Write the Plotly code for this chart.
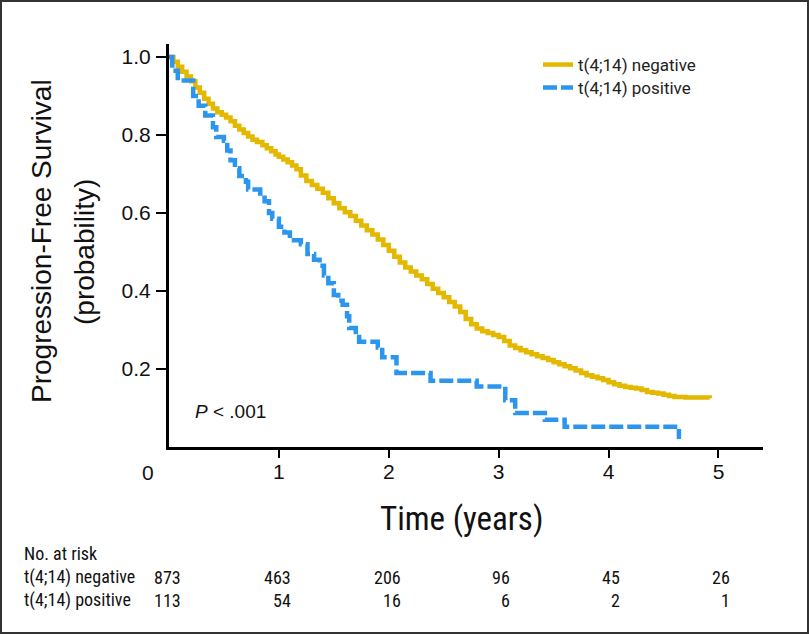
import plotly.graph_objects as go

# Kaplan-Meier estimates (years, probability)
neg_time = [0.00, 0.04, 0.08, 0.12, 0.16, 0.20, 0.24, 0.28, 0.32, 0.36, 0.40, 0.44,
            0.48, 0.52, 0.56, 0.60, 0.64, 0.68, 0.72, 0.76, 0.80, 0.85, 0.89, 0.93,
            0.97, 1.00, 1.04, 1.08, 1.12, 1.16, 1.20, 1.25, 1.30, 1.35, 1.40, 1.45,
            1.50, 1.55, 1.60, 1.65, 1.70, 1.75, 1.80, 1.85, 1.90, 1.95, 2.00, 2.05,
            2.10, 2.15, 2.20, 2.25, 2.30, 2.35, 2.40, 2.45, 2.50, 2.55, 2.60, 2.65,
            2.70, 2.75, 2.80, 2.85, 2.90, 2.95, 3.00, 3.05, 3.10, 3.15, 3.20, 3.25,
            3.30, 3.35, 3.40, 3.45, 3.50, 3.55, 3.60, 3.65, 3.70, 3.75, 3.80, 3.85,
            3.90, 3.95, 4.00, 4.05, 4.10, 4.15, 4.20, 4.25, 4.30, 4.35, 4.40, 4.45,
            4.50, 4.55, 4.60, 4.70, 4.80, 4.92]
neg_surv = [1.000, 0.988, 0.975, 0.962, 0.950, 0.938, 0.922, 0.908, 0.893, 0.880, 0.868, 0.858,
            0.852, 0.845, 0.835, 0.824, 0.814, 0.805, 0.796, 0.788, 0.782, 0.774, 0.766, 0.758,
            0.750, 0.744, 0.737, 0.730, 0.722, 0.712, 0.696, 0.682, 0.672, 0.662, 0.652, 0.638,
            0.625, 0.612, 0.602, 0.592, 0.580, 0.568, 0.556, 0.545, 0.532, 0.518, 0.503, 0.488,
            0.473, 0.460, 0.450, 0.440, 0.430, 0.418, 0.406, 0.395, 0.384, 0.372, 0.360, 0.346,
            0.328, 0.315, 0.304, 0.297, 0.292, 0.287, 0.282, 0.272, 0.260, 0.254, 0.248, 0.243,
            0.238, 0.233, 0.228, 0.223, 0.217, 0.212, 0.207, 0.202, 0.196, 0.190, 0.184, 0.180,
            0.176, 0.172, 0.166, 0.161, 0.157, 0.154, 0.152, 0.150, 0.146, 0.141, 0.139, 0.137,
            0.134, 0.131, 0.128, 0.127, 0.127, 0.125]

pos_time = [0.00, 0.03, 0.08, 0.22, 0.27, 0.33, 0.40, 0.43, 0.50, 0.53, 0.56, 0.60,
            0.64, 0.70, 0.72, 0.83, 0.87, 0.91, 0.94, 1.00, 1.05, 1.10, 1.20, 1.26,
            1.32, 1.37, 1.41, 1.45, 1.50, 1.54, 1.58, 1.62, 1.64, 1.70, 1.73, 1.90,
            1.94, 2.07, 2.38, 2.80, 3.06, 3.15, 3.42, 3.60, 4.64]
pos_surv = [1.000, 0.965, 0.940, 0.900, 0.875, 0.850, 0.820, 0.795, 0.785, 0.760, 0.735, 0.715,
            0.695, 0.680, 0.660, 0.650, 0.630, 0.600, 0.585, 0.565, 0.550, 0.530, 0.520, 0.495,
            0.480, 0.465, 0.440, 0.420, 0.390, 0.375, 0.365, 0.335, 0.305, 0.295, 0.270, 0.255,
            0.230, 0.190, 0.170, 0.155, 0.120, 0.087, 0.070, 0.052, 0.026]
pos_end = 4.66

risk_times = [0, 1, 2, 3, 4, 5]
risk_neg = [873, 463, 206, 96, 45, 26]
risk_pos = [113, 54, 16, 6, 2, 1]

YELLOW = "#E5B800"
BLUE = "#2C96EF"
NARROW = "Liberation Sans Narrow, Arial Narrow, Roboto Condensed, DejaVu Sans Condensed, sans-serif"
SANS = "Liberation Sans, Arial, sans-serif"
INK = "#111"

W, H = 809, 634
L, R, T, B = 169, 46, 44, 187
pw, ph = W - L - R, H - T - B


def px_x(p):
    return (p - L) / pw


def px_y(p):
    return (H - B - p) / ph


def note(text, x, y, size, family=SANS, xanchor="center", xref="paper", angle=0):
    return dict(text=text, x=x, y=y, xref=xref, yref="paper", xanchor=xanchor,
                yanchor="middle", textangle=angle, showarrow=False,
                font=dict(family=family, size=size, color=INK))


fig = go.Figure()
fig.add_trace(go.Scatter(x=neg_time, y=neg_surv, mode="lines", line_shape="hv",
                         line=dict(color=YELLOW, width=4.5), name="t(4;14) negative",
                         showlegend=True, legend="legend"))
fig.add_trace(go.Scatter(x=pos_time + [pos_end], y=pos_surv + [pos_surv[-1]], mode="lines",
                         line_shape="hv", line=dict(color=BLUE, width=4.5, dash="14px,4px"),
                         name="t(4;14) positive", showlegend=True, legend="legend2"))

annotations = [
    dict(text="<i>P</i> < .001", x=0.22, y=0.092, xref="x", yref="y", xanchor="left",
         yanchor="middle", showarrow=False, font=dict(family=SANS, size=19, color=INK)),
    note("0", px_x(147.5), px_y(472), 21),
    note("Progression-Free Survival", px_x(42), px_y(241), 28, angle=-90),
    note("(probability)", px_x(84), px_y(252), 28, angle=-90),
    note("Time (years)", px_x(461.5), px_y(518), 33, family=NARROW),
    note("No. at risk", px_x(22), px_y(553), 18, family=NARROW, xanchor="left"),
    note("t(4;14) negative", px_x(22), px_y(577), 18, family=NARROW, xanchor="left"),
    note("t(4;14) positive", px_x(22), px_y(600), 18, family=NARROW, xanchor="left"),
]
for t, n_neg, n_pos in zip(risk_times, risk_neg, risk_pos):
    annotations.append(note(str(n_neg), t + 0.125, px_y(577), 18, family=NARROW,
                            xanchor="right", xref="x"))
    annotations.append(note(str(n_pos), t + 0.125, px_y(600), 18, family=NARROW,
                            xanchor="right", xref="x"))

legend_style = dict(xanchor="left", yanchor="top", bgcolor="rgba(0,0,0,0)",
                    font=dict(family="Roboto", size=17, color="#222"))

fig.update_layout(
    width=W, height=H,
    showlegend=True,
    margin=dict(l=L, r=R, t=T, b=B),
    paper_bgcolor="white", plot_bgcolor="white",
    xaxis=dict(range=[0, 5.405], tickvals=[1, 2, 3, 4, 5], showgrid=False, zeroline=False,
               showline=True, linecolor="black", linewidth=3, ticks="outside", ticklen=8,
               tickwidth=2, tickcolor="black", ticklabelstandoff=-4,
               tickfont=dict(family=SANS, size=21, color=INK)),
    yaxis=dict(range=[0, 1.0333], tickvals=[0.2, 0.4, 0.6, 0.8, 1.0],
               ticktext=["0.2", "0.4", "0.6", "0.8", "1.0"], showgrid=False, zeroline=False,
               showline=True, linecolor="black", linewidth=3, ticks="outside", ticklen=10,
               tickwidth=2, tickcolor="black", ticklabelstandoff=1,
               tickfont=dict(family=SANS, size=21, color=INK)),
    legend=dict(x=px_x(538), y=px_y(47), visible=True, **legend_style),
    legend2=dict(x=px_x(538), y=px_y(70), visible=True, **legend_style),
    annotations=annotations,
    shapes=[dict(type="rect", xref="paper", yref="paper",
                 x0=px_x(1), x1=px_x(W - 1), y0=px_y(H - 1), y1=px_y(1),
                 line=dict(color="#333", width=2))],
)

fig.write_html("out.html", config={"displayModeBar": False},
               post_script="document.body.style.margin='0';")
